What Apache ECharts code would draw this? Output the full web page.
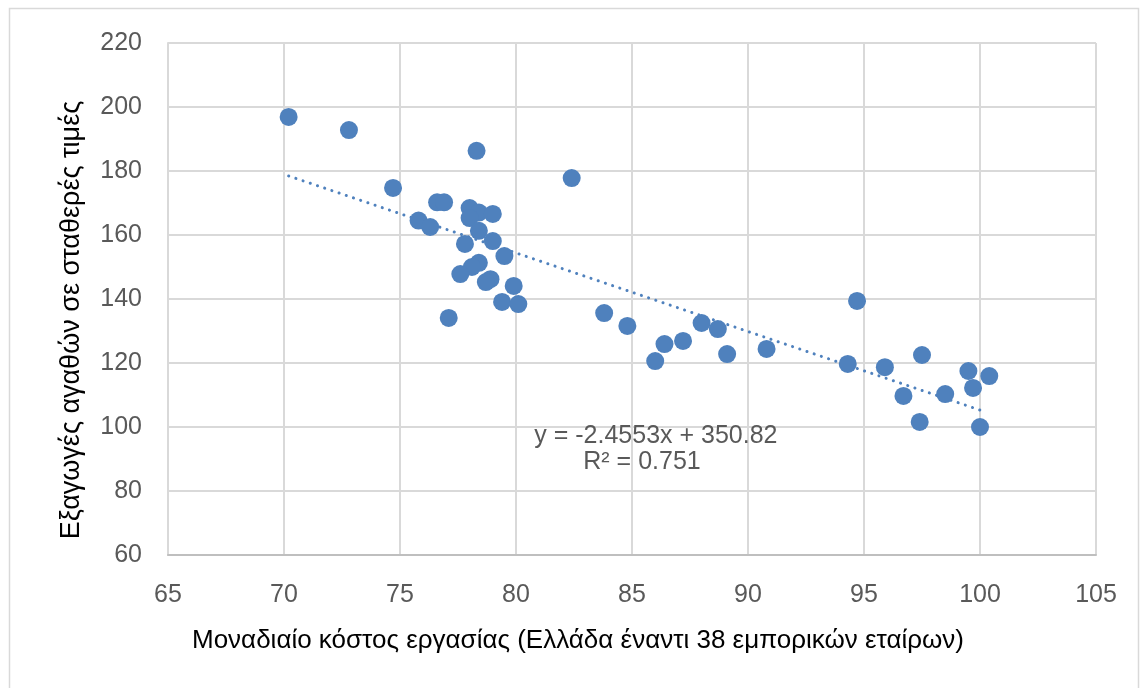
<!DOCTYPE html>
<html><head><meta charset="utf-8">
<script src="https://cdn.jsdelivr.net/npm/echarts@6/dist/echarts.min.js"></script>
<style>html,body{margin:0;padding:0;background:#fff}#c{width:1148px;height:688px}</style>
</head><body><div id="c"></div>
<script>
// Unit labour cost (x) vs exports of goods at constant prices (y)
const xValues = [70.2, 72.8, 78.3, 82.4, 74.7, 76.6, 76.9, 75.8, 76.3, 78.0, 78.4, 79.0, 78.0, 78.4, 77.8, 79.0, 79.5, 78.4, 78.1, 77.6, 78.9, 78.7, 79.9, 79.4, 80.1, 77.1, 83.8, 84.8, 86.0, 86.4, 87.2, 88.0, 88.7, 89.1, 90.8, 94.7, 94.3, 95.9, 97.5, 96.7, 97.4, 98.5, 99.5, 99.7, 100.4, 100.0];
const yValues = [196.9, 192.8, 186.3, 177.8, 174.7, 170.2, 170.2, 164.5, 162.5, 168.4, 167.0, 166.6, 165.3, 161.3, 157.2, 158.1, 153.4, 151.3, 150.0, 147.8, 146.2, 145.3, 144.1, 139.1, 138.4, 134.1, 135.6, 131.6, 120.6, 125.9, 126.9, 132.5, 130.6, 122.8, 124.4, 139.4, 119.7, 118.7, 122.5, 109.7, 101.6, 110.3, 117.5, 112.2, 115.9, 100.0];
const xTicks = [65, 70, 75, 80, 85, 90, 95, 100, 105];
const yTicks = [60, 80, 100, 120, 140, 160, 180, 200, 220];
const trendSlope = -2.4553;
const trendIntercept = 350.82;
const trendRange = [70.2, 100.2];
const xTitle = 'Μοναδιαίο κόστος εργασίας (Ελλάδα έναντι 38 εμπορικών εταίρων)';
const yTitle = 'Εξαγωγές αγαθών σε σταθερές τιμές';
const eqText = 'y = -2.4553x + 350.82';
const r2Text = 'R² = 0.751';

const points = xValues.map((x, i) => [x, yValues[i]]);
const trend = trendRange.map(x => [x, trendSlope * x + trendIntercept]);

const chart = echarts.init(document.getElementById('c'), null, {renderer: 'canvas'});
const labelFont = 'Liberation Sans';
chart.setOption({
  animation: false,
  backgroundColor: '#fff',
  grid: {left: 168, right: 52, top: 43, bottom: 133},
  xAxis: {
    type: 'value', min: xTicks[0], max: xTicks[xTicks.length - 1], interval: 5,
    axisLine: {show: true, onZero: false, lineStyle: {color: '#bfbfbf', width: 2}},
    axisTick: {show: false},
    axisLabel: {color: '#595959', fontSize: 25, fontFamily: labelFont, margin: 28},
    splitLine: {show: true, lineStyle: {color: '#d9d9d9', width: 2}}
  },
  yAxis: {
    type: 'value', min: yTicks[0], max: yTicks[yTicks.length - 1], interval: 20,
    axisLine: {show: true, onZero: false, lineStyle: {color: '#d9d9d9', width: 2}},
    axisTick: {show: false},
    axisLabel: {color: '#595959', fontSize: 25, fontFamily: labelFont, margin: 26},
    splitLine: {show: true, lineStyle: {color: '#d9d9d9', width: 2}}
  },
  graphic: [
    {type: 'rect', shape: {x: 9.5, y: 8.5, width: 1129, height: 700}, style: {fill: 'none', stroke: '#d9d9d9', lineWidth: 1.5}, silent: true},
    {type: 'text', x: 578, y: 641, style: {text: xTitle, fill: '#000', font: '26px "Liberation Sans"', align: 'center', verticalAlign: 'middle'}, silent: true},
    {type: 'text', x: 72, y: 320, rotation: Math.PI / 2, style: {text: yTitle, fill: '#000', font: '27px "Liberation Sans"', align: 'center', verticalAlign: 'middle'}, silent: true}
  ],
  series: [
    {
      type: 'line', data: trend, showSymbol: false, z: 3,
      lineStyle: {color: '#4f81bd', width: 3, type: [0.1, 7.5], cap: 'round'},
      markPoint: {
        symbol: 'rect', symbolSize: 0,
        data: [
          {coord: [86.03, 97.2], label: {show: true, position: 'inside', formatter: eqText, color: '#595959', fontSize: 25, fontFamily: labelFont}},
          {coord: [85.43, 89.1], label: {show: true, position: 'inside', formatter: r2Text, color: '#595959', fontSize: 25, fontFamily: labelFont}}
        ]
      }
    },
    {
      type: 'scatter', data: points, symbolSize: 18, z: 4,
      itemStyle: {color: '#4f81bd', opacity: 1}
    }
  ]
});
</script></body></html>
